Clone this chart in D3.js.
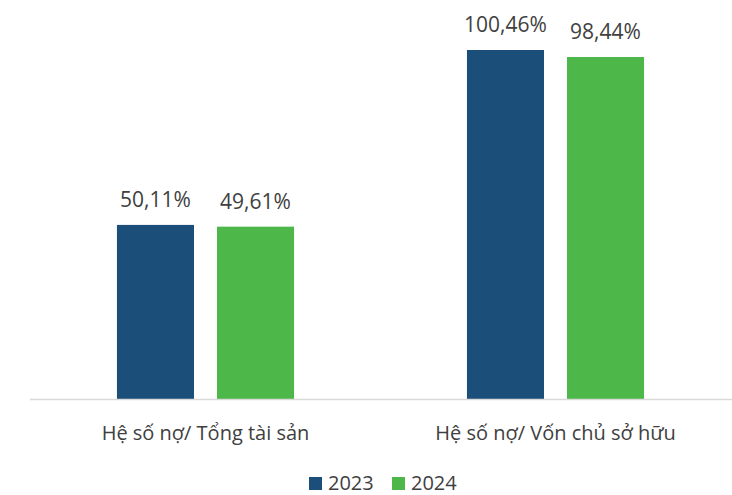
<!DOCTYPE html>
<html>
<head>
<meta charset="utf-8">
<script src="https://cdn.jsdelivr.net/npm/d3@7"></script>
<style>
  body { margin: 0; background: #fff; }
  text { font-family: 'Open Sans', sans-serif; fill: #404040; }
</style>
</head>
<body>
<div class="chart"></div>
<script>
// chart data
var categories = ['Hệ số nợ/ Tổng tài sản', 'Hệ số nợ/ Vốn chủ sở hữu'];
var years = ['2023', '2024'];
var values2023 = [50.11, 100.46];
var values2024 = [49.61, 98.44];
var colors = ['#1B4F79', '#4DB74A'];

var width = 732, height = 495;
var baseY = 399;

var svg = d3.select('.chart')
  .append('svg')
  .attr('width', width)
  .attr('height', height);

var x0 = d3.scaleBand()
  .domain(categories)
  .range([30.5, 730.5])
  .paddingInner(0.494)
  .paddingOuter(0.247);

var x1 = d3.scaleBand()
  .domain(years)
  .range([0, x0.bandwidth()])
  .paddingInner(0.23);

var y = d3.scaleLinear()
  .domain([0, 110])
  .range([baseY, baseY - 3.474 * 110]);

var color = d3.scaleOrdinal().domain(years).range(colors);

var fmt = v => d3.format('.2f')(v).replace('.', ',') + '%';

var rows = categories.map((c, i) => ({
  cat: c,
  vals: [
    { year: '2023', v: values2023[i] },
    { year: '2024', v: values2024[i] }
  ]
}));

var groups = svg.selectAll('.grp')
  .data(rows)
  .enter()
  .append('g')
  .attr('class', 'grp')
  .attr('transform', d => 'translate(' + x0(d.cat) + ',0)');

groups.selectAll('rect')
  .data(d => d.vals)
  .enter()
  .append('rect')
  .attr('x', d => x1(d.year))
  .attr('y', d => y(d.v))
  .attr('width', x1.bandwidth())
  .attr('height', d => baseY - y(d.v))
  .style('fill', d => color(d.year));

groups.selectAll('.lbl')
  .data(d => d.vals)
  .enter()
  .append('text')
  .attr('class', 'lbl')
  .attr('x', d => x1(d.year) + x1.bandwidth() / 2)
  .attr('y', d => y(d.v) - 18)
  .style('text-anchor', 'middle')
  .style('font-size', '21px')
  .text(d => fmt(d.v));

// x axis
var xAxis = svg.append('g')
  .attr('transform', 'translate(0,' + baseY + ')')
  .call(d3.axisBottom(x0).tickSize(0));
xAxis.select('.domain').attr('d', 'M30,0.5H732').style('stroke', '#d9d9d9').style('stroke-width', 1.5);
xAxis.selectAll('.tick text')
  .attr('y', 41)
  .attr('dy', null)
  .style('font-family', "'Open Sans', sans-serif")
  .style('font-size', '20px')
  .style('fill', '#404040');

// legend
var legend = svg.append('g')
  .attr('transform', 'translate(309,477)');
var li = legend.selectAll('.li')
  .data(years)
  .enter()
  .append('g')
  .attr('transform', (d, i) => 'translate(' + (i * 83) + ',0)');
li.append('rect')
  .attr('width', 13)
  .attr('height', 13)
  .style('fill', d => color(d));
li.append('text')
  .attr('x', 19)
  .attr('y', 13)
  .style('font-size', '20px')
  .text(d => d);
</script>
</body>
</html>
